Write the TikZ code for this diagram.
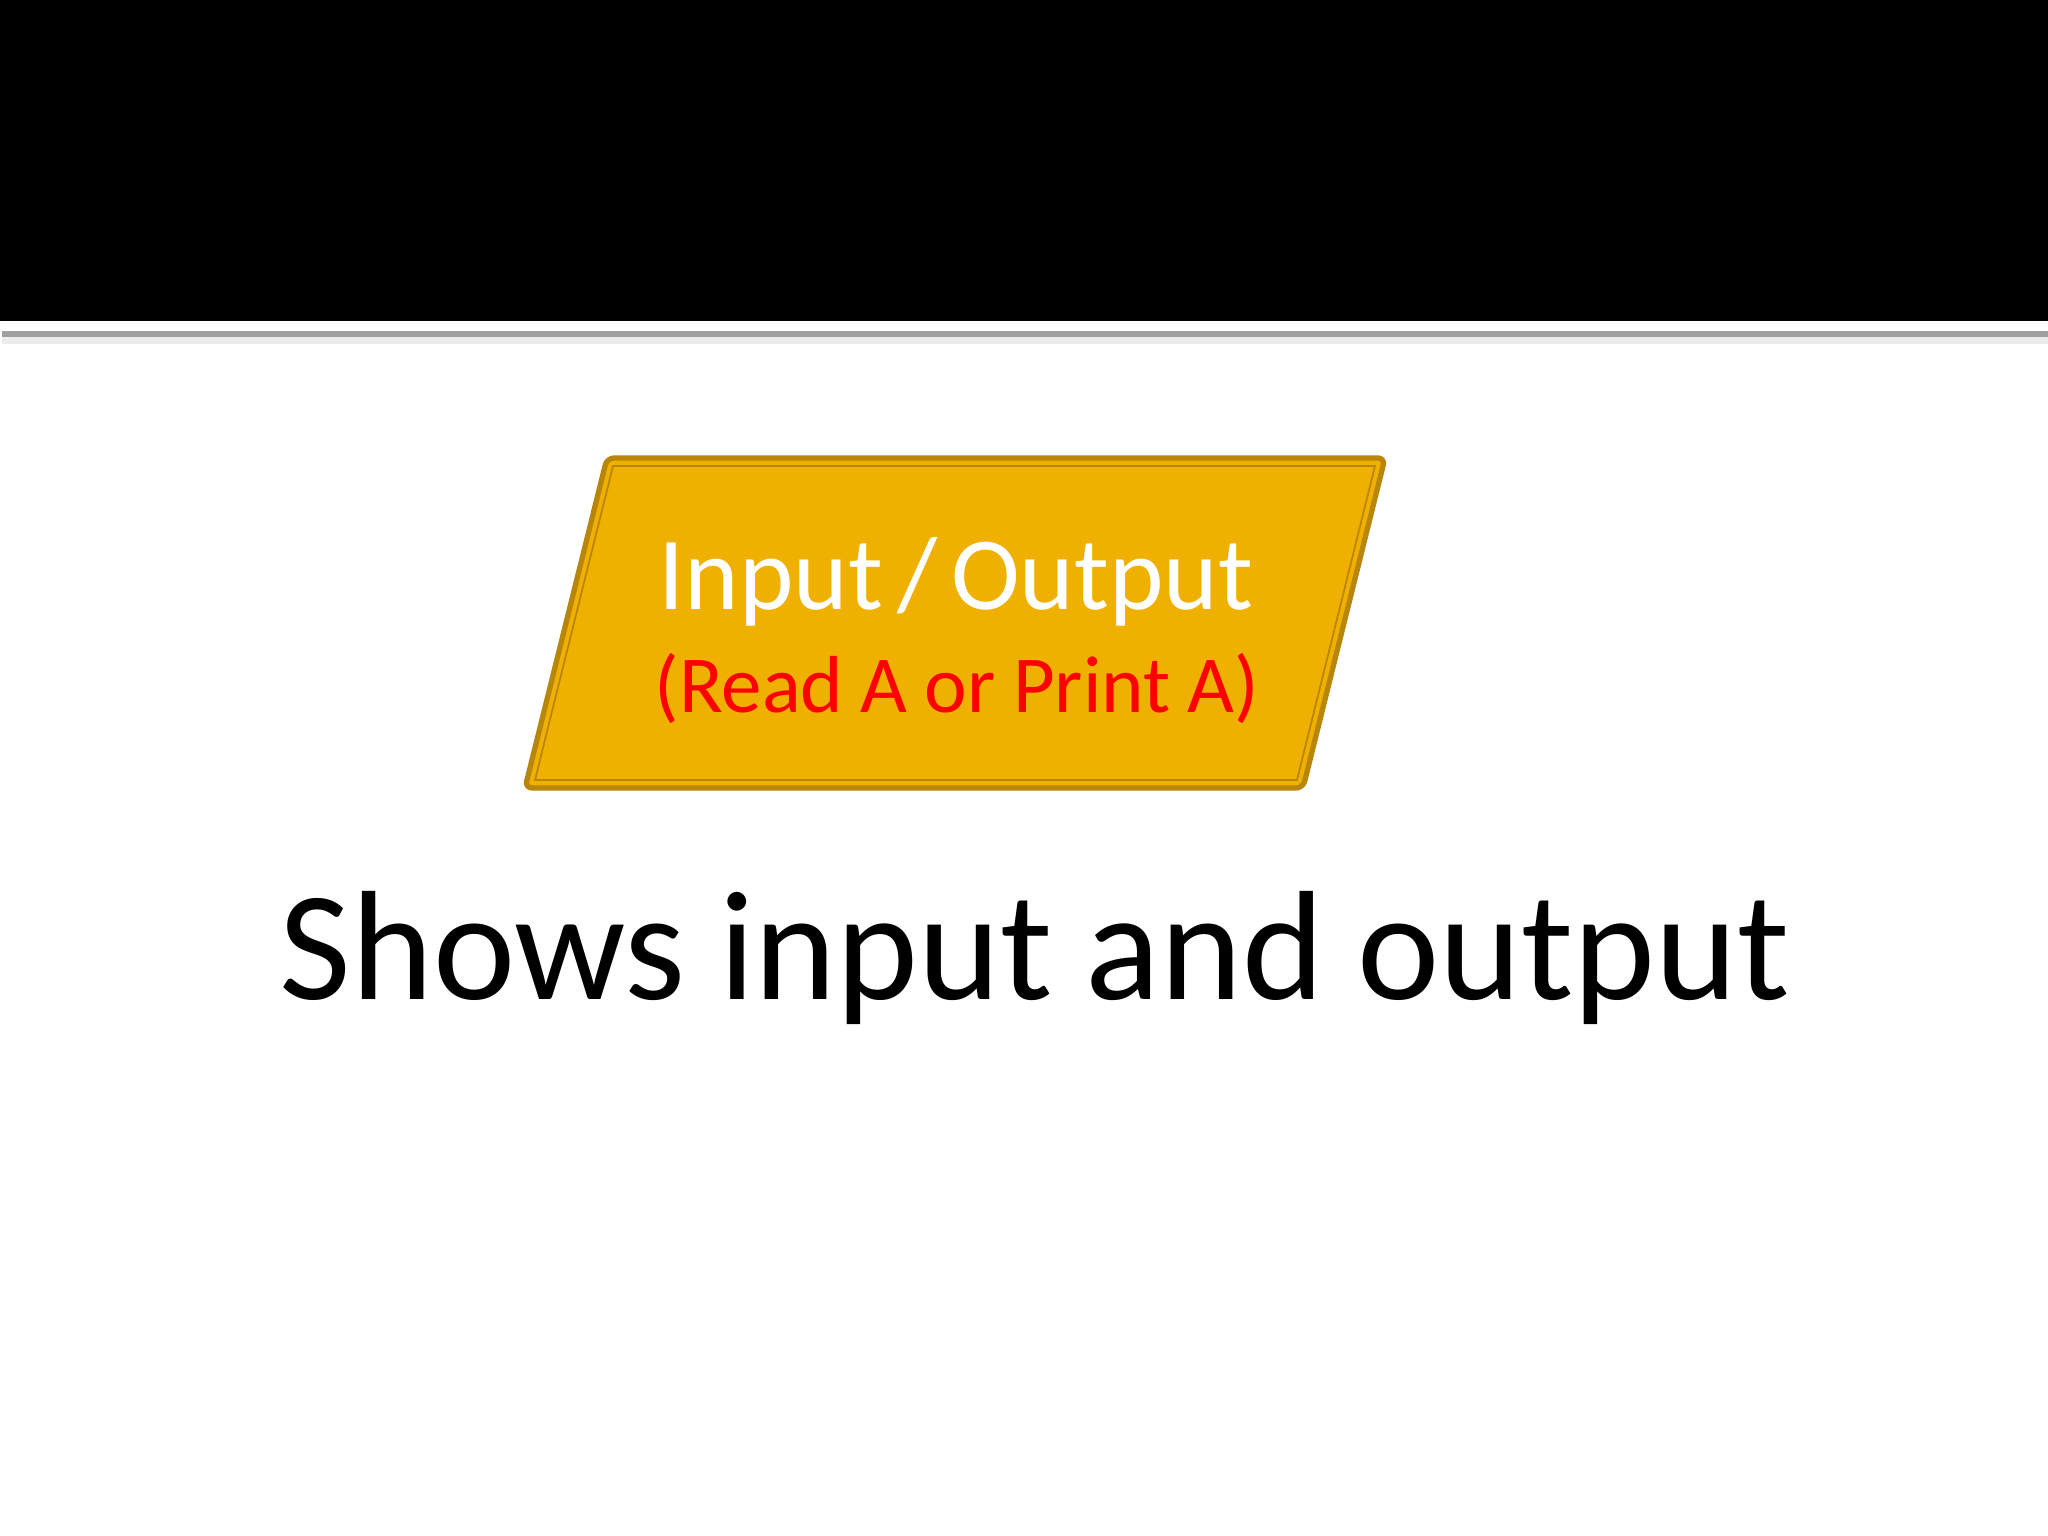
\documentclass[tikz,border=0pt]{standalone}
\usepackage{fontspec}
\setmainfont{Carlito}
\usepackage{tikz}
\definecolor{ioyellow}{HTML}{F0B000}
\definecolor{iobrown}{HTML}{B8860B}
\definecolor{iored}{HTML}{FF0000}
\newcommand\wordgap[1]{\spaceskip=#1\fontdimen2\font\relax}

\begin{document}
\begin{tikzpicture}[x=0.01cm,y=-0.01cm,
		iobox/.style={draw=iobrown,fill=ioyellow,line width=1.5pt,rounded corners=2pt,line join=round},
		ioinner/.style={draw=iobrown,line width=0.5pt},
		iotext/.style={anchor=base,inner sep=0pt}]
		\useasboundingbox (0,0) rectangle (2048,1536);
		\fill[white] (0,0) rectangle (2048,1536);
		% title band
		\fill[black] (0,0) rectangle (2048,321);
		\draw[gray!15,line width=3pt] (2,339) -- (2048,339);
		\draw[gray!75,line width=1.6pt] (2,334) -- (2048,334);
		% input / output box
		\coordinate (tl) at (607,458);
		\coordinate (tr) at (1385,458);
		\coordinate (br) at (1303,788);
		\coordinate (bl) at (525,788);
		\draw[iobox] (tl) -- (tr) -- (br) -- (bl) -- cycle;
		\draw[ioinner] (613,466) -- (1375,466) -- (1297,780) -- (535,780) -- cycle;
		\node[iotext,white] (io) at (956,609) {\fontsize{29.5}{36}\selectfont\wordgap{0.6}Input / Output};
		\node[iotext,iored] (ex) at (957,712) {\fontsize{23}{28}\selectfont\wordgap{0.95}(Read A or Print A)};
		% caption
		\node[iotext,black] (cap) at (1035,999) {\fontsize{44.3}{52}\selectfont\wordgap{0.95}Shows input and output};
\end{tikzpicture}
\end{document}
